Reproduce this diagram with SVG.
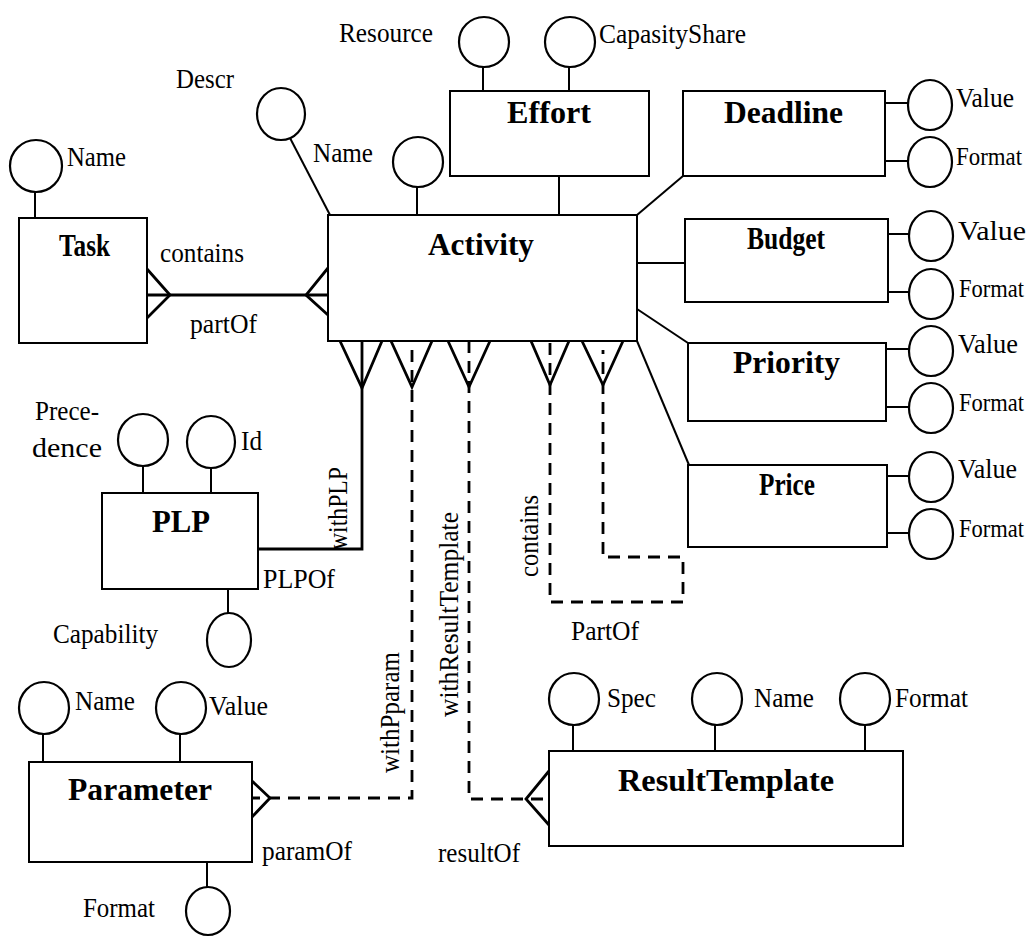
<svg xmlns="http://www.w3.org/2000/svg" width="1034" height="937" viewBox="0 0 1034 937">
  <style>
    .box { fill: #fff; stroke: #000; stroke-width: 2; }
    .attr { fill: none; stroke: #000; stroke-width: 2.2; }
    .stem { stroke: #000; stroke-width: 2; fill: none; }
    .rel { stroke: #000; stroke-width: 2.8; fill: none; }
    .foot { stroke: #000; stroke-width: 2.8; fill: none; stroke-linejoin: miter; }
    .dash { stroke: #000; stroke-width: 2.8; fill: none; stroke-dasharray: 12 8; }
    .lbl { font-family: "Liberation Serif", "Times New Roman", serif; font-size: 28px; fill: #000; }
    .edge { font-size: 25px; }
    .ent { font-family: "Liberation Serif", "Times New Roman", serif; font-size: 32px; font-weight: bold; fill: #000; }
  </style>
  <rect width="1034" height="937" fill="#fff"/>

  <!-- relationships and attribute links -->
  <g id="connectors">
    <!-- Task / Activity: contains / partOf -->
    <line class="rel" x1="147" y1="295" x2="328" y2="295"/>
    <polyline class="foot" points="147,269 170,295 147,318"/>
    <polyline class="foot" points="328,268 306,295 328,315"/>
    <!-- Activity to Effort, Deadline, Budget, Priority, Price -->
    <line class="stem" x1="559" y1="176" x2="559" y2="215"/>
    <line class="stem" x1="683" y1="176" x2="637" y2="215"/>
    <line class="stem" x1="637" y1="263" x2="685" y2="263"/>
    <line class="stem" x1="637" y1="309" x2="688" y2="343"/>
    <line class="stem" x1="637" y1="341" x2="689" y2="465"/>
    <!-- Descr link -->
    <line class="stem" x1="290" y1="138" x2="330" y2="215"/>
    <!-- crow's feet under Activity -->
    <polyline class="foot" points="340,341 362,388 382,341"/>
    <polyline class="foot" points="391,341 412,387 432,341"/>
    <polyline class="foot" points="448,341 469,387 490,341"/>
    <polyline class="foot" points="531,341 550,385 569,341"/>
    <polyline class="foot" points="582,341 603,385 623,341"/>
    <!-- withPLP / PLPOf -->
    <polyline class="rel" points="362,341 362,549 258,549"/>
    <!-- withPparam / paramOf -->
    <polyline class="dash" points="412,350 412,798 253,798"/>
    <polyline class="foot" points="252,781 270,798 252,817"/>
    <!-- withResultTemplate / resultOf -->
    <polyline class="dash" points="469,341 469,799 547,799"/>
    <polyline class="foot" points="549,771 526,799 549,825"/>
    <!-- recursive contains / PartOf -->
    <polyline class="dash" points="550,343 550,602 683,602 683,557 603,557 603,350"/>
  </g>

  <g id="task">
    <rect class="box" x="19" y="218" width="128" height="125"/>
    <text class="ent" x="59" y="256" textLength="51" lengthAdjust="spacingAndGlyphs">Task</text>
    <circle class="attr" cx="36" cy="166" r="26"/>
    <line class="stem" x1="35" y1="192" x2="35" y2="218"/>
    <text class="lbl" x="67" y="166" textLength="59" lengthAdjust="spacingAndGlyphs">Name</text>
    <text class="lbl" x="160" y="262" textLength="84" lengthAdjust="spacingAndGlyphs">contains</text>
    <text class="lbl" x="190" y="333" textLength="67" lengthAdjust="spacingAndGlyphs">partOf</text>
  </g>

  <g id="activity">
    <rect class="box" x="328" y="215" width="309" height="126"/>
    <text class="ent" x="428" y="255" textLength="106" lengthAdjust="spacingAndGlyphs">Activity</text>
    <ellipse class="attr" cx="281" cy="114" rx="24" ry="26"/>
    <text class="lbl" x="176" y="88" textLength="58" lengthAdjust="spacingAndGlyphs">Descr</text>
    <circle class="attr" cx="418" cy="162" r="25"/>
    <line class="stem" x1="417" y1="187" x2="417" y2="215"/>
    <text class="lbl" x="313" y="162" textLength="60" lengthAdjust="spacingAndGlyphs">Name</text>
  </g>

  <g id="effort">
    <rect class="box" x="450" y="91" width="199" height="85"/>
    <text class="ent" x="507" y="123" textLength="84" lengthAdjust="spacingAndGlyphs">Effort</text>
    <circle class="attr" cx="484" cy="42" r="25"/>
    <line class="stem" x1="483" y1="67" x2="483" y2="91"/>
    <text class="lbl" x="339" y="42" textLength="94" lengthAdjust="spacingAndGlyphs">Resource</text>
    <circle class="attr" cx="570" cy="42" r="25"/>
    <line class="stem" x1="569" y1="67" x2="569" y2="91"/>
    <text class="lbl" x="599" y="43" textLength="147" lengthAdjust="spacingAndGlyphs">CapasityShare</text>
  </g>

  <g id="deadline">
    <rect class="box" x="683" y="91" width="202" height="85"/>
    <text class="ent" x="724" y="123" textLength="119" lengthAdjust="spacingAndGlyphs">Deadline</text>
    <line class="stem" x1="885" y1="103" x2="908" y2="103"/>
    <ellipse class="attr" cx="930" cy="105" rx="22" ry="25"/>
    <text class="lbl" x="956" y="107" textLength="58" lengthAdjust="spacingAndGlyphs">Value</text>
    <line class="stem" x1="885" y1="161" x2="908" y2="161"/>
    <ellipse class="attr" cx="930" cy="162" rx="22" ry="25"/>
    <text class="lbl edge" x="956" y="165" textLength="66" lengthAdjust="spacingAndGlyphs">Format</text>
  </g>

  <g id="budget">
    <rect class="box" x="685" y="219" width="203" height="83"/>
    <text class="ent" x="747" y="249" font-size="29" textLength="78" lengthAdjust="spacingAndGlyphs">Budget</text>
    <line class="stem" x1="888" y1="234" x2="909" y2="234"/>
    <ellipse class="attr" cx="931" cy="236" rx="22" ry="25"/>
    <text class="lbl" x="958" y="240" textLength="68" lengthAdjust="spacingAndGlyphs">Value</text>
    <line class="stem" x1="888" y1="292" x2="909" y2="292"/>
    <ellipse class="attr" cx="931" cy="294" rx="22" ry="25"/>
    <text class="lbl edge" x="959" y="297" textLength="65" lengthAdjust="spacingAndGlyphs">Format</text>
  </g>

  <g id="priority">
    <rect class="box" x="688" y="343" width="198" height="78"/>
    <text class="ent" x="733" y="373" textLength="107" lengthAdjust="spacingAndGlyphs">Priority</text>
    <line class="stem" x1="886" y1="349" x2="909" y2="349"/>
    <ellipse class="attr" cx="931" cy="351" rx="22" ry="25"/>
    <text class="lbl" x="958" y="353" textLength="60" lengthAdjust="spacingAndGlyphs">Value</text>
    <line class="stem" x1="886" y1="407" x2="909" y2="407"/>
    <ellipse class="attr" cx="931" cy="408" rx="22" ry="25"/>
    <text class="lbl edge" x="959" y="411" textLength="65" lengthAdjust="spacingAndGlyphs">Format</text>
  </g>

  <g id="price">
    <rect class="box" x="688" y="465" width="199" height="82"/>
    <text class="ent" x="759" y="495" font-size="29" textLength="56" lengthAdjust="spacingAndGlyphs">Price</text>
    <line class="stem" x1="887" y1="476" x2="909" y2="476"/>
    <ellipse class="attr" cx="931" cy="477" rx="22" ry="25"/>
    <text class="lbl" x="958" y="478" textLength="59" lengthAdjust="spacingAndGlyphs">Value</text>
    <line class="stem" x1="887" y1="533" x2="909" y2="533"/>
    <ellipse class="attr" cx="931" cy="534" rx="22" ry="25"/>
    <text class="lbl edge" x="959" y="537" textLength="65" lengthAdjust="spacingAndGlyphs">Format</text>
  </g>

  <g id="plp">
    <rect class="box" x="102" y="493" width="156" height="96"/>
    <text class="ent" x="152" y="532" textLength="58" lengthAdjust="spacingAndGlyphs">PLP</text>
    <ellipse class="attr" cx="143" cy="440" rx="25" ry="26"/>
    <line class="stem" x1="143" y1="466" x2="143" y2="493"/>
    <text class="lbl" x="35" y="420" textLength="64" lengthAdjust="spacingAndGlyphs">Prece-</text>
    <text class="lbl" x="32" y="457" textLength="70" lengthAdjust="spacingAndGlyphs">dence</text>
    <ellipse class="attr" cx="211" cy="442" rx="24" ry="26"/>
    <line class="stem" x1="211" y1="468" x2="211" y2="493"/>
    <text class="lbl" x="241" y="450" textLength="21" lengthAdjust="spacingAndGlyphs">Id</text>
    <line class="stem" x1="228" y1="589" x2="228" y2="613"/>
    <ellipse class="attr" cx="229" cy="640" rx="22" ry="27"/>
    <text class="lbl" x="53" y="643" textLength="105" lengthAdjust="spacingAndGlyphs">Capability</text>
    <text class="lbl" x="263" y="588" textLength="72" lengthAdjust="spacingAndGlyphs">PLPOf</text>
    <text class="lbl" transform="translate(347,550) rotate(-90)" textLength="83" lengthAdjust="spacingAndGlyphs">withPLP</text>
  </g>

  <g id="parameter">
    <rect class="box" x="29" y="762" width="223" height="100"/>
    <text class="ent" x="68" y="800" textLength="144" lengthAdjust="spacingAndGlyphs">Parameter</text>
    <ellipse class="attr" cx="44" cy="708" rx="25" ry="26"/>
    <line class="stem" x1="43" y1="734" x2="43" y2="762"/>
    <text class="lbl" x="75" y="710" textLength="60" lengthAdjust="spacingAndGlyphs">Name</text>
    <ellipse class="attr" cx="181" cy="708" rx="25" ry="26"/>
    <line class="stem" x1="180" y1="734" x2="180" y2="762"/>
    <text class="lbl" x="209" y="715" textLength="59" lengthAdjust="spacingAndGlyphs">Value</text>
    <line class="stem" x1="207" y1="862" x2="207" y2="887"/>
    <ellipse class="attr" cx="208" cy="911" rx="22" ry="24"/>
    <text class="lbl" x="83" y="917" textLength="72" lengthAdjust="spacingAndGlyphs">Format</text>
    <text class="lbl" x="262" y="860" textLength="90" lengthAdjust="spacingAndGlyphs">paramOf</text>
    <text class="lbl" transform="translate(399,773) rotate(-90)" textLength="121" lengthAdjust="spacingAndGlyphs">withPparam</text>
  </g>

  <g id="result-template">
    <rect class="box" x="549" y="751" width="354" height="95"/>
    <text class="ent" x="618" y="791" textLength="216" lengthAdjust="spacingAndGlyphs">ResultTemplate</text>
    <ellipse class="attr" cx="574" cy="699" rx="25" ry="26"/>
    <line class="stem" x1="573" y1="725" x2="573" y2="751"/>
    <text class="lbl" x="607" y="707" textLength="49" lengthAdjust="spacingAndGlyphs">Spec</text>
    <ellipse class="attr" cx="717" cy="699" rx="25" ry="26"/>
    <line class="stem" x1="715" y1="725" x2="715" y2="751"/>
    <text class="lbl" x="754" y="707" textLength="60" lengthAdjust="spacingAndGlyphs">Name</text>
    <ellipse class="attr" cx="865" cy="699" rx="25" ry="26"/>
    <line class="stem" x1="865" y1="725" x2="865" y2="751"/>
    <text class="lbl" x="895" y="707" textLength="73" lengthAdjust="spacingAndGlyphs">Format</text>
    <text class="lbl" x="438" y="862" textLength="82" lengthAdjust="spacingAndGlyphs">resultOf</text>
    <text class="lbl" transform="translate(458,717) rotate(-90)" textLength="205" lengthAdjust="spacingAndGlyphs">withResultTemplate</text>
  </g>

  <g id="activity-recursion">
    <text class="lbl" transform="translate(538,577) rotate(-90)" textLength="82" lengthAdjust="spacingAndGlyphs">contains</text>
    <text class="lbl" x="571" y="640" textLength="68" lengthAdjust="spacingAndGlyphs">PartOf</text>
  </g>
</svg>
